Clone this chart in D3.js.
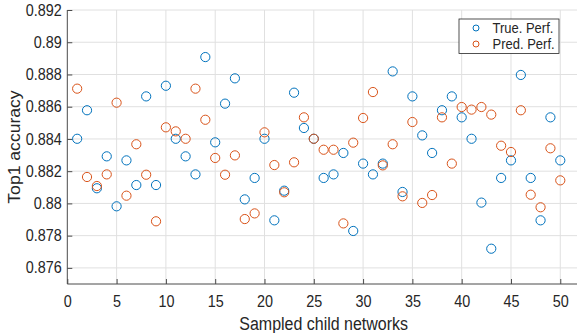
<!DOCTYPE html>
<html>
<head>
<meta charset="utf-8">
<script src="https://cdn.jsdelivr.net/npm/d3@7"></script>
<style>
  html, body { margin: 0; padding: 0; background: #fff; overflow: hidden; }
  svg { display: block; font-family: "Liberation Sans", Arial, sans-serif; }
</style>
</head>
<body>
<svg id="chart" width="577" height="333"></svg>
<script>
// sampled child network index 1..50
const networks = d3.range(1, 51);

const truePerf = [
  0.88401, 0.88578, 0.88094, 0.88292, 0.87982, 0.88267, 0.88114, 0.88664, 0.88114, 0.88730,
  0.88401, 0.88292, 0.88180, 0.88908, 0.88379, 0.88619, 0.88776, 0.88025, 0.88158, 0.88401,
  0.87895, 0.88079, 0.88687, 0.88468, 0.88401, 0.88158, 0.88180, 0.88313, 0.87829, 0.88247,
  0.88180, 0.88247, 0.88819, 0.88071, 0.88664, 0.88422, 0.88313, 0.88578, 0.88664, 0.88534,
  0.88401, 0.88005, 0.87719, 0.88158, 0.88267, 0.88797, 0.88158, 0.87895, 0.88534, 0.88267
];

const predPerf = [
  0.88712, 0.88164, 0.88108, 0.88180, 0.88625, 0.88048, 0.88367, 0.88178, 0.87889, 0.88472,
  0.88447, 0.88401, 0.88712, 0.88519, 0.88282, 0.88178, 0.88298, 0.87903, 0.87938, 0.88441,
  0.88238, 0.88069, 0.88255, 0.88534, 0.88401, 0.88333, 0.88333, 0.87876, 0.88377, 0.88530,
  0.88691, 0.88236, 0.88367, 0.88044, 0.88505, 0.88003, 0.88052, 0.88534, 0.88247, 0.88598,
  0.88582, 0.88598, 0.88551, 0.88358, 0.88319, 0.88578, 0.88054, 0.87976, 0.88342, 0.88143
];

const xTicks = [0, 5, 10, 15, 20, 25, 30, 35, 40, 45, 50];
const yTicks = [0.876, 0.878, 0.88, 0.882, 0.884, 0.886, 0.888, 0.89, 0.892];

const series = [
  { name: "True. Perf.", values: truePerf, color: "#0072BD" },
  { name: "Pred. Perf.", values: predPerf, color: "#D95319" }
];

const svg = d3.select("#chart");
const padL = 67.3, padR = 580, padT = 10, padB = 284;
const stretch = 1.1; // the picture's text is a bit taller than wide

const x = d3.scaleLinear().domain([0, 52]).range([padL, padR]);
const y = d3.scaleLinear().domain([0.875, 0.892]).range([padB, padT]);

const axisColor = "#4a4a4a";
const textColor = "#262626";

// grid
const grid = svg.append("g").attr("stroke", "#e0e0e0").attr("stroke-width", 1);
grid.selectAll("line.gx").data(xTicks.filter(d => d > 0)).join("line")
  .attr("x1", d => x(d)).attr("x2", d => x(d))
  .attr("y1", padT).attr("y2", padB);
grid.selectAll("line.gy").data(yTicks).join("line")
  .attr("x1", padL).attr("x2", padR)
  .attr("y1", d => y(d)).attr("y2", d => y(d));

// axes (MATLAB style, ticks inward)
const xAxis = d3.axisBottom(x).tickValues(xTicks).tickSize(-5)
  .tickFormat(d3.format("d"));
const gx = svg.append("g").attr("transform", `translate(0,${padB})`).call(xAxis);
gx.select(".domain").attr("d", `M${padL},0H${padR}`);
gx.selectAll(".tick text")
  .attr("y", null).attr("dy", null)
  .attr("transform", `translate(0,22.5) scale(1,${stretch})`);

const yAxis = d3.axisLeft(y).tickValues(yTicks).tickSize(-5).tickPadding(5.5)
  .tickFormat(d => String(+d.toFixed(3)));
const gy = svg.append("g").attr("transform", `translate(${padL},0)`).call(yAxis);
gy.select(".domain").attr("d", `M0,${padT}V${padB}`);
gy.selectAll(".tick text").attr("transform", `scale(1,${stretch})`);

[gx, gy].forEach(g => {
  g.selectAll(".domain").attr("stroke", axisColor).attr("stroke-width", 1);
  g.selectAll(".tick line").attr("stroke", axisColor).attr("stroke-width", 1);
  g.selectAll(".tick text").attr("fill", textColor).style("font-size", "14.4px");
});

// points
series.forEach(s => {
  svg.append("g").selectAll("circle")
    .data(s.values)
    .join("circle")
    .attr("cx", (d, i) => x(networks[i]))
    .attr("cy", d => y(d))
    .attr("r", 4.6)
    .attr("fill", "none")
    .attr("stroke", s.color)
    .attr("stroke-width", 1);
});

// labels
svg.append("text")
  .attr("transform", `translate(${x(26)},329.5) scale(1,${stretch})`)
  .attr("text-anchor", "middle")
  .attr("fill", textColor)
  .style("font-size", "16px")
  .text("Sampled child networks");

svg.append("text")
  .attr("transform", `translate(20,${(padT + padB) / 2}) rotate(-90) scale(${stretch},1)`)
  .attr("text-anchor", "middle")
  .attr("fill", textColor)
  .style("font-size", "16px")
  .text("Top1 accuracy");

// legend
const lg = svg.append("g").attr("transform", "translate(459,19)");
lg.append("rect")
  .attr("width", 100).attr("height", 34.5)
  .attr("fill", "#fff").attr("stroke", "#262626").attr("stroke-width", 0.8);
series.forEach((s, i) => {
  const row = lg.append("g").attr("transform", `translate(0,${9 + i * 16})`);
  row.append("circle").attr("cx", 17).attr("cy", 0).attr("r", 3)
    .attr("fill", "none").attr("stroke", s.color).attr("stroke-width", 1);
  row.append("text").attr("transform", `translate(33.5,5) scale(1,${stretch})`)
    .attr("fill", textColor).style("font-size", "13px").text(s.name);
});
</script>
</body>
</html>
